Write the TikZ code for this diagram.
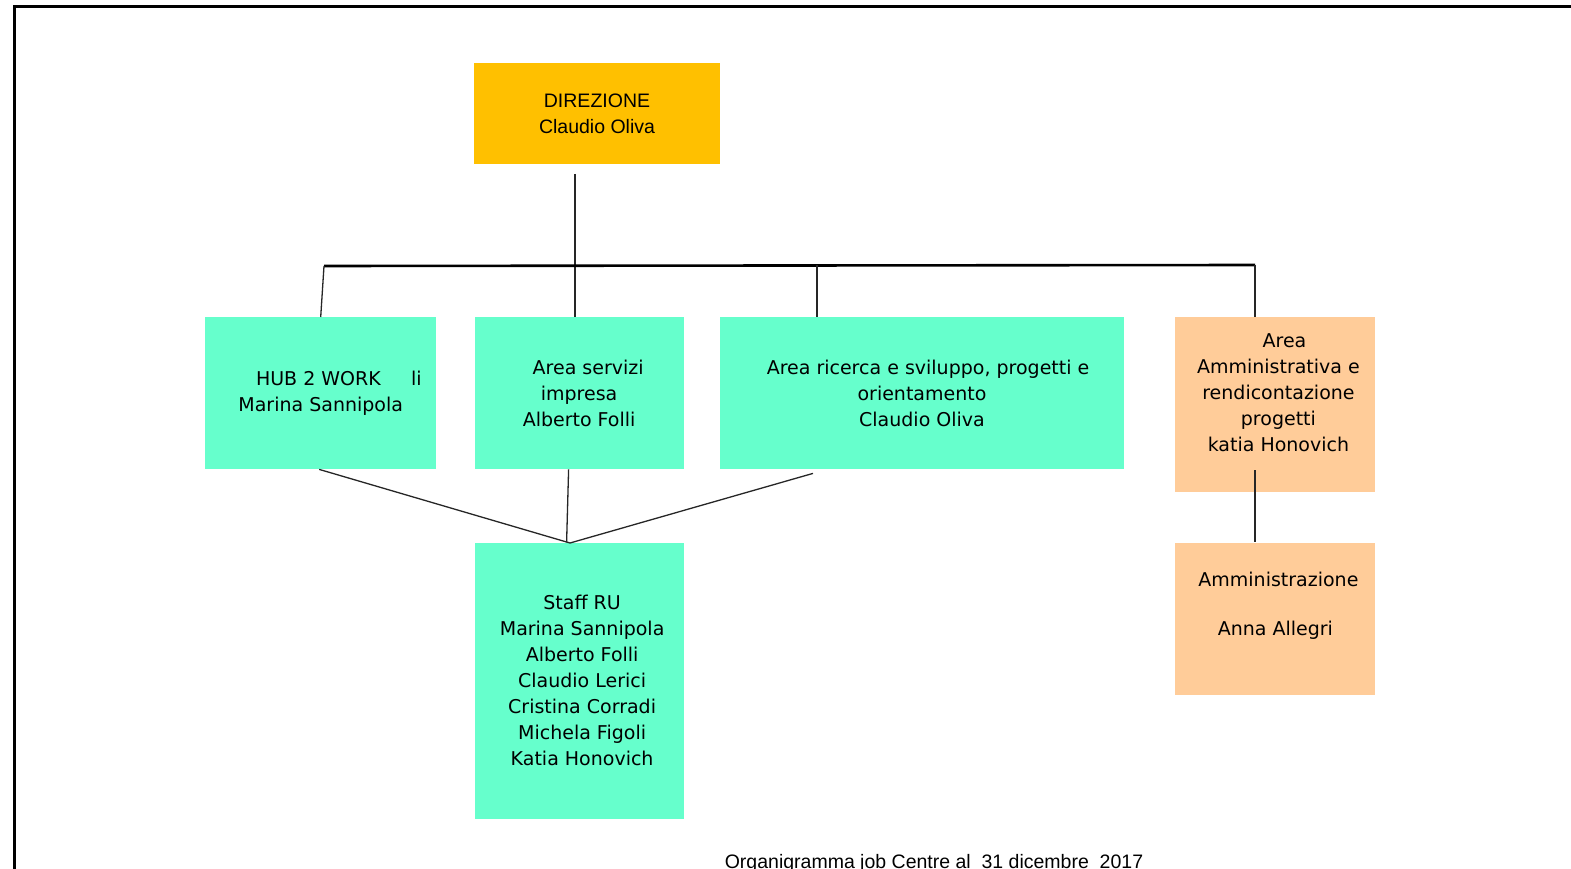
\documentclass[tikz,border=0pt]{standalone}
\usepackage{fontspec}
\setmainfont{DejaVu Sans}
\newfontfamily\helvfont{Liberation Sans}
\usepackage{xcolor}
\usepackage{tikz}
\usetikzlibrary{
    positioning,
    calc
}
\definecolor{gold}{HTML}{FFC000}
\definecolor{aqua}{HTML}{66FFCC}
\definecolor{peach}{HTML}{FFCC99}
\tikzset{
    headbox/.style={
        fill=gold,
        minimum width=246pt,
        minimum height=101pt,
        align=center,
        inner sep=0pt,
        font=\helvfont\fontsize{19.5}{26}\selectfont
    }
}
\tikzset{
    areabox/.style={
        fill=aqua,
        minimum height=152pt,
        align=center,
        inner sep=0pt,
        font=\fontsize{19}{26}\selectfont
    }
}
\tikzset{
    adminbox/.style={
        fill=peach,
        minimum width=200pt,
        align=center,
        inner sep=0pt,
        font=\fontsize{19}{26}\selectfont
    }
}
\tikzset{
    link/.style={
        draw=black!85,
        line width=1.3pt
    }
}
\tikzset{
    busbar/.style={
        draw=black,
        line width=2.6pt
    }
}

\begin{document}
\begin{tikzpicture}[
    x=1pt,
    y=-1pt
]

\useasboundingbox (0,0) rectangle (1571,869);
\clip (0,0) rectangle (1571,869);

% ------------------------------------------------------------
% Page frame
% ------------------------------------------------------------

\draw[line width=3pt] (14,7) rectangle (1600,900);

% ------------------------------------------------------------
% Direzione
% ------------------------------------------------------------

\node[headbox] (direzione) at (597,113.5)
    {DIREZIONE\\Claudio Oliva};

% ------------------------------------------------------------
% Areas
% ------------------------------------------------------------

\node[areabox, minimum width=231pt, anchor=north west] (hub) at (205,317)
    {\ \ \ \ \ \ HUB 2 WORK\ \ \ \ \ li\\Marina Sannipola};

\node[areabox, minimum width=209pt, right=38pt of hub] (servizi)
    {\ \ \ Area servizi\\impresa\\Alberto Folli};

\node[areabox, minimum width=404pt, right=36pt of servizi] (ricerca)
    {\ \ Area ricerca e sviluppo, progetti e\\orientamento\\Claudio Oliva};

\node[
    adminbox,
    minimum height=175pt,
    text depth=24pt,
    right=51pt of ricerca.north east,
    anchor=north west
] (amministrativa)
    {\ \ \ Area\\\ Amministrativa e\\\ rendicontazione\\\ progetti\\\ katia Honovich};

\node[
    adminbox,
    minimum height=152pt,
    text depth=29pt,
    below=50pt of amministrativa
] (amministrazione)
    {\ Amministrazione\\[23pt]Anna Allegri};

% ------------------------------------------------------------
% Staff RU
% ------------------------------------------------------------

\node[areabox, minimum width=209pt, minimum height=276pt, below=73pt of servizi] (staff)
    {\ Staff RU\\\ Marina Sannipola\\\ Alberto Folli\\\ Claudio Lerici\\\ Cristina Corradi\\\ Michela Figoli\\\ Katia Honovich};

% ------------------------------------------------------------
% Connectors
% ------------------------------------------------------------

\coordinate (dirfoot) at (575,174);
\coordinate (barW) at (324,266);
\coordinate (barE) at (1255,265);
\coordinate (ricercaTap) at (817,265);
\coordinate (staffTop) at (570,543);

\draw[link] (dirfoot) -- (dirfoot |- servizi.north);

\draw[busbar] (barW) -- (barE);

\draw[link] (barW) -- (hub.north);
\draw[link] (ricercaTap) -- (ricercaTap |- ricerca.north);
\draw[link] (barE) -- (barE |- amministrativa.north);

\draw[link] ([xshift=-1.5pt]hub.south) -- (staffTop);
\draw[link] ([xshift=-10.5pt]servizi.south) -- ([xshift=-12.5pt]staff.north);
\draw[link] ([xshift=-109pt,yshift=-4pt]ricerca.south) -- (staffTop);

\draw[link] ([yshift=22pt]barE |- amministrativa.south) -- (barE |- amministrazione.north);

% ------------------------------------------------------------
% Caption
% ------------------------------------------------------------

\node[
    font=\helvfont\fontsize{19.5}{24}\selectfont,
    anchor=base
] (caption) at (934,868)
    {Organigramma job Centre al~~31 dicembre~~2017};

\end{tikzpicture}
\end{document}
